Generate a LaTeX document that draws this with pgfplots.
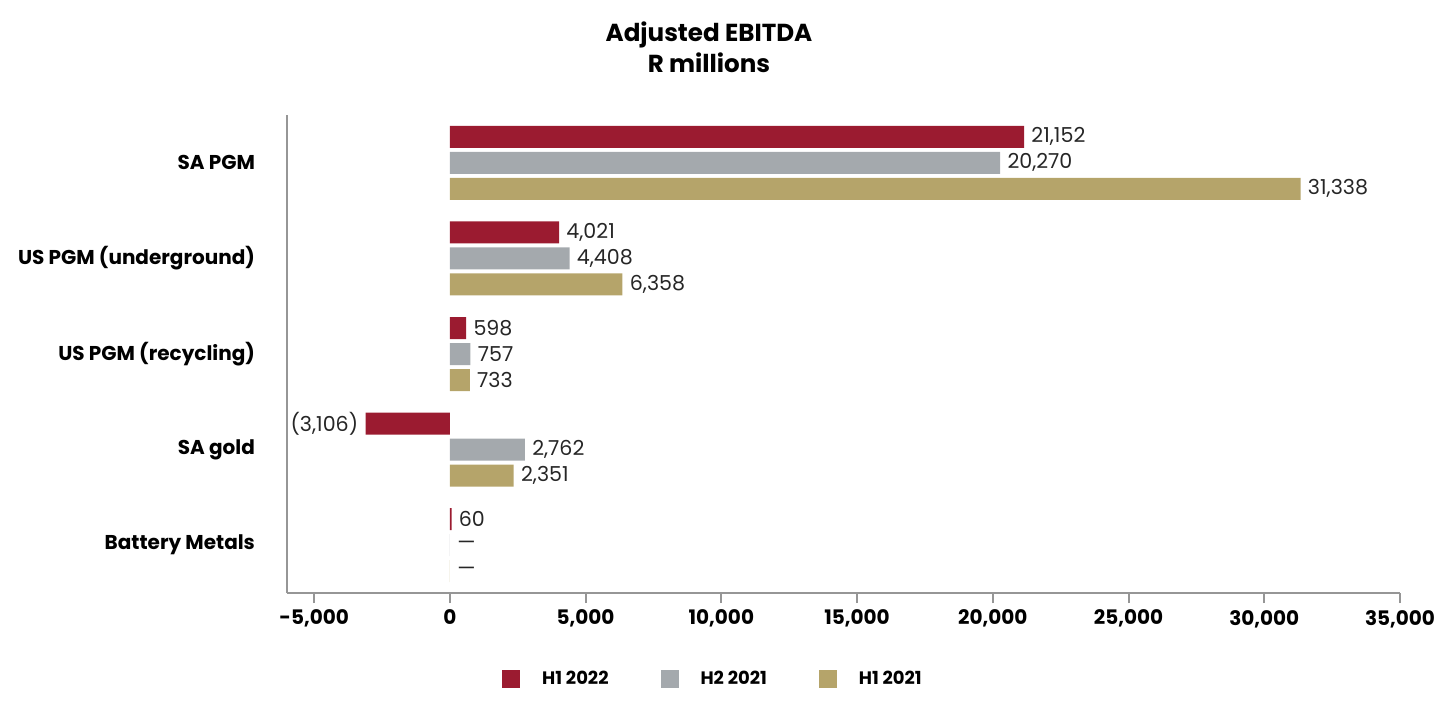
\documentclass[border=0pt]{standalone}
\usepackage{fontspec}
\setmainfont{Poppins}
\usepackage{pgfplots}
\pgfplotsset{compat=1.18}
\definecolor{cA}{RGB}{155,27,48}
\definecolor{cB}{RGB}{164,169,173}
\definecolor{cC}{RGB}{181,164,106}
\definecolor{axgray}{RGB}{150,150,150}
\begin{document}
\begin{tikzpicture}
\useasboundingbox (-143.5pt,-63.5pt) rectangle (576.5pt,296.5pt);
\begin{axis}[
  at={(0,0)}, anchor=south west, scale only axis,
  width=556.5pt, height=239pt,
  xmin=-6000, xmax=35000, ymin=-0.5, ymax=4.5,
  axis x line=bottom, axis y line=left,
  axis line style={-, draw=axgray, line width=1pt},
  xtick={-5000,0,5000,10000,15000,20000,25000,30000,35000},
  scaled x ticks=false,
  ytick={0,1,2,3,4},
  yticklabels={Battery Metals, SA gold, US PGM (recycling), US PGM (underground), SA PGM},
  tick align=outside, major tick length=5pt,
  x tick style={draw=axgray, line width=1pt},
  y tick style={draw=none},
  xticklabel style={font=\bfseries\fontsize{10}{12}\selectfont, black},
  yticklabel style={font=\bfseries\fontsize{10}{12}\selectfont, black, xshift=-7.5pt},
  /pgf/number format/1000 sep={,},
  /pgf/number format/assume math mode=true,
  xbar, bar width=11pt,
  point meta=explicit symbolic,
  nodes near coords,
  every node near coord/.append style={font=\fontsize{10.3}{12}\selectfont, black!85, inner sep=3.5pt},
  every node near coord/.append code={%
    \pgfkeysgetvalue{/data point/x}\myx
    \pgfmathfloatparsenumber{\myx}%
    \pgfmathfloatgetflagstomacro\pgfmathresult\myflag
    \ifnum\myflag=2 \pgfkeysalso{anchor=east}\else\pgfkeysalso{anchor=west}\fi},
  legend columns=3,
  legend style={draw=none, at={(axis description cs:0.3836,-0.18)}, anchor=center,
    font=\bfseries\fontsize{9}{11}\selectfont,
    /tikz/every even column/.append style={column sep=24pt},
    /tikz/every odd column/.append style={column sep=9pt}},
  legend image code/.code={\fill[#1, draw=none] (0pt,-4.5pt) rectangle (9pt,4.5pt);},
]
\addplot[fill=cA, draw=none, bar shift=13pt] table[meta=lab] {
x y lab
21152 4 21,152
4021 3 4,021
598 2 598
-3106 1 (3,106)
60 0 60
};
\addplot[fill=cB, draw=none, bar shift=0pt] table[meta=lab] {
x y lab
20270 4 20,270
4408 3 4,408
757 2 757
2762 1 2,762
0 0 —
};
\addplot[fill=cC, draw=none, bar shift=-13pt] table[meta=lab] {
x y lab
31338 4 31,338
6358 3 6,358
733 2 733
2351 1 2,351
0 0 —
};
\legend{H1 2022, H2 2021, H1 2021}
\end{axis}
\node[align=center, font=\bfseries\fontsize{12.3}{15.5}\selectfont] at (211pt,272.75pt) {Adjusted EBITDA\\R millions};
\end{tikzpicture}
\end{document}
